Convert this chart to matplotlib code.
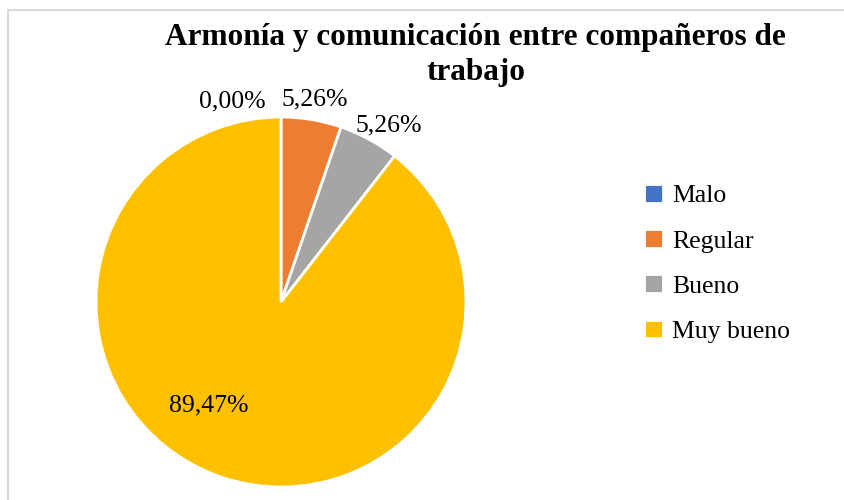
import matplotlib.pyplot as plt
import numpy as np
from matplotlib.patches import Rectangle

categories = ['Malo', 'Regular', 'Bueno', 'Muy bueno']
counts = [0, 1, 1, 17]
pct_labels = ['0,00%', '5,26%', '5,26%', '89,47%']
colors = ['#4472C4', '#ED7D31', '#A5A5A5', '#FFC000']

plt.rcParams['font.family'] = ['Liberation Serif', 'DejaVu Serif']

fig = plt.figure(figsize=(8.45, 5), dpi=100)
ax = fig.add_axes([0, 0, 1, 1])

cx, cy, r = 281, 198, 185
wedges, _ = ax.pie(counts, colors=colors, startangle=90, counterclock=False,
                   center=(cx, cy), radius=r,
                   wedgeprops=dict(edgecolor='white', linewidth=2))

# label placement: (radius factor, angle shift in degrees)
label_pos = [(1.0, 13), (1.11, 0), (1.12, -3), (0.68, -16)]
for w, txt, (f, shift) in zip(wedges, pct_labels, label_pos):
    ang = np.deg2rad((w.theta1 + w.theta2) / 2 + shift)
    x = cx + f * r * np.cos(ang)
    y = cy + f * r * np.sin(ang)
    if w.theta1 == w.theta2:
        x, y = cx - 49, cy + 201
    ax.text(x, y, txt, ha='center', va='center', fontsize=18.5, color='#000000')

ax.set_xlim(0, 845)
ax.set_ylim(0, 500)
ax.set_aspect('equal')
ax.axis('off')

fig.text(0.563, 0.89, 'Armonía y comunicación entre compañeros de\ntrabajo',
         ha='center', va='center', fontsize=22.5, fontweight='bold',
         linespacing=1.25)

leg = ax.legend(wedges, categories, loc='center left',
                bbox_to_anchor=(0.735, 0.473), frameon=False, fontsize=18.5,
                handlelength=0.75, handleheight=0.75, handletextpad=0.35,
                labelspacing=0.85)

fig.patches.append(Rectangle((8 / 845, -0.1), 1.2, (490 / 500) + 0.1,
                             transform=fig.transFigure, fill=False,
                             edgecolor='#D9D9D9', linewidth=1.5))

fig.savefig('out.png', dpi=100)
